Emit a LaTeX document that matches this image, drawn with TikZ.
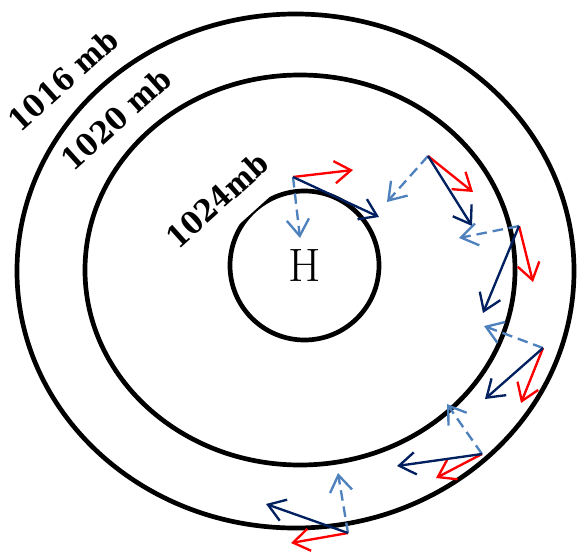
\documentclass[tikz,border=0pt]{standalone}
\usepackage{fontspec}
\usepackage{xcolor}
\usepackage{tikz}
\usetikzlibrary{arrows.meta, positioning}
\newfontfamily\isofont{DejaVu Serif Condensed}
\definecolor{vecRed}{RGB}{255, 0, 0}
\definecolor{vecNavy}{RGB}{0, 32, 96}
\definecolor{vecBlue}{RGB}{79, 129, 189}

\begin{document}
\begin{tikzpicture}[x=0.03cm, y=-0.03cm,
    isobar/.style={line width=4pt, draw=black},
    isolabel/.style={font=\isofont\bfseries\fontsize{26}{30}\selectfont, rotate=42, inner sep=2pt},
    vec/.style={line width=2pt, -{Straight Barb[length=14pt, width=19pt]}},
    redvec/.style={vec, vecRed},
    navyvec/.style={vec, vecNavy},
    bluevec/.style={vec, vecBlue, dash pattern=on 9pt off 5pt}]

    \useasboundingbox (0,0) rectangle (577,554);

    % isobars
    \draw[isobar] (295.5,271) ellipse [x radius=8.355cm, y radius=7.71cm];
    \draw[isobar] (300,270) ellipse [x radius=6.45cm, y radius=5.85cm];
    \node[isobar, circle, minimum size=4.47cm, inner sep=0pt,
          font=\fontsize{40}{48}\selectfont] (high) at (304.5,265.5) {H};

    \node[isolabel] (lab1016) at (63,80) {1016 mb};
    \node[isolabel] (lab1020) at (116,119) {1020 mb};
    \node[isolabel, fill=white, inner ysep=18pt, inner xsep=4pt] (lab1024) at (217,200) {1024mb};

    % vector origins and ends
    \coordinate (o1) at (293,177);
    \coordinate (r1) at (353,170);
    \coordinate (n1) at (379,217);
    \coordinate (d1) at (300,238);

    \coordinate (o2) at (428,156);
    \coordinate (r2) at (473,192);
    \coordinate (n2) at (472,226);
    \coordinate (d2) at (387,202);

    \coordinate (o3) at (519,226);
    \coordinate (r3) at (533,282);
    \coordinate (n3) at (483,313);
    \coordinate (d3) at (459,238);

    \coordinate (o4) at (543,348);
    \coordinate (r4) at (521,403);
    \coordinate (n4) at (485,399);
    \coordinate (d4) at (484,326);

    \coordinate (o5) at (482,454);
    \coordinate (r5) at (436,478);
    \coordinate (n5) at (397,466);
    \coordinate (d5) at (447,404);

    \coordinate (o6) at (348,533);
    \coordinate (r6) at (291,543);
    \coordinate (n6) at (266,504);
    \coordinate (d6) at (338,473);

    \draw[bluevec] (o1) -- (d1);
    \draw[redvec] (o1) -- (r1);
    \draw[navyvec] (o1) -- (n1);

    \draw[bluevec] (o2) -- (d2);
    \draw[redvec] (o2) -- (r2);
    \draw[navyvec] (o2) -- (n2);

    \draw[bluevec] (o3) -- (d3);
    \draw[redvec] (o3) -- (r3);
    \draw[navyvec] (o3) -- (n3);

    \draw[bluevec] (o4) -- (d4);
    \draw[redvec] (o4) -- (r4);
    \draw[navyvec] (o4) -- (n4);

    \draw[bluevec] (o5) -- (d5);
    \draw[redvec] (o5) -- (r5);
    \draw[navyvec] (o5) -- (n5);

    \draw[bluevec] (o6) -- (d6);
    \draw[redvec] (o6) -- (r6);
    \draw[navyvec] (o6) -- (n6);

\end{tikzpicture}
\end{document}
